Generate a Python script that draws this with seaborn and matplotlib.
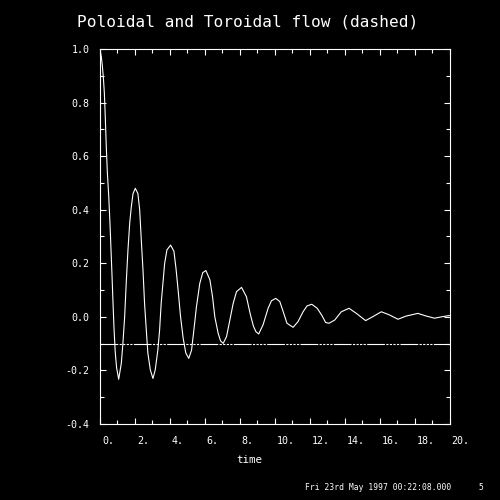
import numpy as np
import pandas as pd
import matplotlib
matplotlib.use('Agg')
import matplotlib.pyplot as plt
import matplotlib.transforms as mtransforms
from matplotlib.ticker import MultipleLocator
import seaborn as sns

# poloidal flow
time_pol = [0.0, 0.076, 0.13, 0.19, 0.25, 0.30, 0.36, 0.42, 0.50, 0.57, 0.63, 0.69, 0.74, 0.80, 0.87,
            0.95, 1.07, 1.22, 1.31, 1.41, 1.50, 1.60, 1.70, 1.79, 1.89, 2.02, 2.17, 2.27, 2.36, 2.46,
            2.55, 2.65, 2.74, 2.88, 3.03, 3.16, 3.31, 3.41, 3.50, 3.60, 3.70, 3.83, 4.04, 4.23, 4.35,
            4.47, 4.61, 4.76, 4.91, 5.08, 5.24, 5.37, 5.52, 5.71, 5.88, 6.06, 6.29, 6.44, 6.57, 6.76,
            6.90, 7.05, 7.24, 7.43, 7.62, 7.81, 8.10, 8.38, 8.60, 8.78, 8.92, 9.08, 9.33, 9.62, 9.81,
            10.06, 10.29, 10.48, 10.70, 11.05, 11.33, 11.62, 11.85, 12.12, 12.43, 12.70, 12.91, 13.10,
            13.43, 13.81, 14.25, 14.67, 15.20, 15.62, 16.10, 16.57, 17.05, 17.52, 18.19, 18.67, 19.14,
            19.62, 20.0]
flow_pol = [1.0, 0.97, 0.94, 0.895, 0.835, 0.75, 0.635, 0.54, 0.45, 0.35, 0.25, 0.15, 0.06, -0.04, -0.13,
            -0.19, -0.233, -0.173, -0.10, 0.0, 0.125, 0.25, 0.35, 0.41, 0.46, 0.48, 0.46, 0.40, 0.29, 0.175,
            0.05, -0.05, -0.136, -0.198, -0.23, -0.198, -0.124, -0.05, 0.05, 0.125, 0.20, 0.25, 0.268, 0.245, 0.18,
            0.10, 0.0, -0.08, -0.135, -0.155, -0.124, -0.05, 0.038, 0.125, 0.165, 0.173, 0.138, 0.075, 0.0, -0.061,
            -0.09, -0.099, -0.074, -0.012, 0.05, 0.094, 0.110, 0.075, 0.01, -0.035, -0.055, -0.064, -0.03, 0.032, 0.06,
            0.069, 0.057, 0.02, -0.024, -0.039, -0.018, 0.019, 0.041, 0.047, 0.032, 0.005, -0.021, -0.024,
            -0.012, 0.019, 0.032, 0.013, -0.014, 0.001, 0.019, 0.007, -0.009, 0.003, 0.013, 0.003, -0.005,
            0.001, 0.005]

# toroidal flow (dashed)
time_tor = [0.0, 20.0]
flow_tor = [-0.1, -0.1]

x_ticks = [0, 2, 4, 6, 8, 10, 12, 14, 16, 18, 20]
x_labels = ['0.', '2.', '4.', '6.', '8.', '10.', '12.', '14.', '16.', '18.', '20.']
y_ticks = [-0.4, -0.2, 0.0, 0.2, 0.4, 0.6, 0.8, 1.0]
y_labels = ['-0.4', '-0.2', '0.0', '0.2', '0.4', '0.6', '0.8', '1.0']

sns.set_theme(style='dark', rc={'axes.facecolor': 'black', 'figure.facecolor': 'black',
                                'axes.edgecolor': 'white', 'text.color': 'white'})
plt.rcParams['font.family'] = ['DejaVu Sans Mono']

fig = plt.figure(figsize=(5, 5), dpi=100)
ax = fig.add_axes([0.2, 0.152, 0.699, 0.75])

sns.lineplot(x=time_pol, y=flow_pol, color='white', lw=0.8, ax=ax)
sns.lineplot(x=time_tor, y=flow_tor, color='white', lw=0.8,
             linestyle=(0, (16, 1.2, 2, 1.2, 2, 1.2, 2, 1.2, 2, 1.2)), ax=ax)

ax.set_xlim(0, 20)
ax.set_ylim(-0.4, 1.0)
ax.grid(False)
ax.set_xticks(x_ticks)
ax.set_xticklabels(x_labels)
ax.set_yticks(y_ticks)
ax.set_yticklabels(y_labels)
ax.xaxis.set_minor_locator(MultipleLocator(1))
ax.yaxis.set_minor_locator(MultipleLocator(0.1))
ax.tick_params(which='both', direction='in', top=True, right=True, bottom=True, left=True,
               color='white', labelcolor='white', width=0.8)
ax.tick_params(which='major', length=4.3, labelsize=7.2)
ax.tick_params(which='minor', length=2.9)
ax.tick_params(axis='y', pad=7.5)
ax.tick_params(axis='x', pad=9)
offset = mtransforms.ScaledTranslation(2 / 100, 0, fig.dpi_scale_trans)
for lbl in ax.get_xticklabels():
    lbl.set_horizontalalignment('left')
    lbl.set_transform(lbl.get_transform() + offset)
for sp in ax.spines.values():
    sp.set_color('white')
    sp.set_linewidth(0.8)
ax.set_xlabel('')
ax.set_ylabel('')

fig.text(0.496, 0.956, 'Poloidal and Toroidal flow (dashed)', ha='center', va='center',
         fontsize=11.6, color='white')
fig.text(0.498, 0.080, 'time', ha='center', va='center', fontsize=7.8, color='white')
fig.text(0.61, 0.024, 'Fri 23rd May 1997 00:22:08.000', ha='left', va='center',
         fontsize=5.8, color='white')
fig.text(0.962, 0.024, '5', ha='center', va='center', fontsize=5.8, color='white')

fig.savefig('out.png', dpi=100, facecolor='black')
